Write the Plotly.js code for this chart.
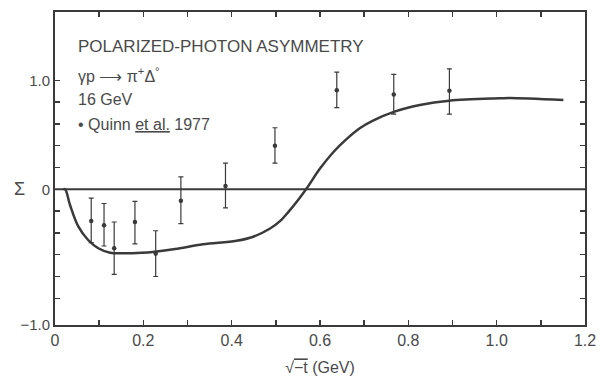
<!DOCTYPE html>
<html>
<head>
<meta charset="utf-8">
<script src="https://cdn.plot.ly/plotly-3.0.1.min.js"></script>
<style>html,body{margin:0;padding:0;background:#fff;}#chart{width:600px;height:381px;}</style>
</head>
<body>
<div id="chart"></div>
<script>
// Data: Quinn et al. 1977 points
const dataX = [0.082, 0.111, 0.134, 0.181, 0.228, 0.285, 0.386, 0.498, 0.638, 0.767, 0.893];
const dataY = [-0.29, -0.33, -0.54, -0.30, -0.59, -0.105, 0.03, 0.40, 0.91, 0.87, 0.905];
const errPlus = [0.21, 0.20, 0.24, 0.19, 0.21, 0.22, 0.21, 0.165, 0.165, 0.185, 0.20];
const errMinus = [0.20, 0.19, 0.24, 0.20, 0.21, 0.21, 0.20, 0.16, 0.16, 0.18, 0.215];

// Theory curve
const curveX = [0.019, 0.023, 0.034, 0.053, 0.075, 0.098, 0.125, 0.151, 0.196, 0.226, 0.272, 0.335, 0.411, 0.449, 0.487, 0.51, 0.53, 0.55, 0.57, 0.60, 0.63, 0.66, 0.69, 0.72, 0.767, 0.826, 0.893, 1.007, 1.030, 1.151];
const curveY = [0.0, 0.0, -0.144, -0.343, -0.465, -0.541, -0.582, -0.587, -0.582, -0.572, -0.548, -0.505, -0.472, -0.435, -0.36, -0.29, -0.20, -0.10, 0.01, 0.19, 0.34, 0.46, 0.56, 0.63, 0.71, 0.773, 0.813, 0.835, 0.838, 0.819];

// Zero reference line
const zeroX = [0, 1.2];
const zeroY = [0, 0];

// Tick labels
const xTickVals = [0, 0.2, 0.4, 0.6, 0.8, 1.0, 1.2];
const xTickText = ['0', '0.2', '0.4', '0.6', '0.8', '1.0', '1.2'];
const xMinorVals = [0.1, 0.3, 0.5, 0.7, 0.9, 1.1];
const yTickVals = [-1.245, 0, 1.0];
const yTickText = ['\u22121.0', '0', '1.0'];
const yMinorVals = [-1.0, -0.8, -0.6, -0.4, -0.2, 0.2, 0.4, 0.6, 0.8];

const ink = '#3a3a3a';
const txt = '#4a4a4a';
const font = 'Liberation Sans, Arial, sans-serif';

const traces = [
  {x: zeroX, y: zeroY, mode: 'lines', line: {color: ink, width: 2}, hoverinfo: 'skip', showlegend: false},
  {x: curveX, y: curveY, mode: 'lines', line: {color: ink, width: 2.5, shape: 'spline', smoothing: 1}, showlegend: false},
  {x: dataX, y: dataY, mode: 'markers', marker: {color: ink, size: 4.5},
   error_y: {type: 'data', symmetric: false, array: errPlus, arrayminus: errMinus, color: ink, thickness: 1.2, width: 2.5},
   showlegend: false}
];

const layout = {
  width: 600, height: 381,
  margin: {l: 55, r: 15, t: 12, b: 56},
  paper_bgcolor: '#ffffff', plot_bgcolor: '#ffffff',
  font: {family: font, color: txt, size: 14},
  showlegend: false,
  xaxis: {
    range: [0, 1.2], tickmode: 'array', tickvals: xTickVals, ticktext: xTickText,
    ticks: 'inside', ticklen: 5, tickwidth: 1.5, tickcolor: ink,
    minor: {tickmode: 'array', tickvals: xMinorVals, ticks: 'inside', ticklen: 5, tickwidth: 1.5, tickcolor: ink, showgrid: false},
    showline: true, linecolor: ink, linewidth: 2, mirror: 'ticks',
    showgrid: false, zeroline: false,
    tickfont: {size: 16, color: txt, family: font},
    title: {text: '\u221A<span style="text-decoration:overline">\u2212t</span> (GeV)', font: {size: 16, color: txt, family: font}, standoff: 14}
  },
  yaxis: {
    range: [-1.245, 1.627], tickmode: 'array', tickvals: yTickVals, ticktext: yTickText,
    ticks: 'inside', ticklen: 5, tickwidth: 1.5, tickcolor: ink,
    minor: {tickmode: 'array', tickvals: yMinorVals, ticks: 'inside', ticklen: 5, tickwidth: 1.5, tickcolor: ink, showgrid: false},
    showline: true, linecolor: ink, linewidth: 2, mirror: 'ticks',
    showgrid: false, zeroline: false,
    tickfont: {size: 15, color: txt, family: font}
  },
  annotations: [
    {xref: 'paper', yref: 'y', x: -0.067, y: 0, text: '\u03A3', showarrow: false, xanchor: 'center', yanchor: 'middle', font: {size: 18, color: txt, family: font}},
    {xref: 'x', yref: 'paper', x: 0.047, y: 0.89, text: 'POLARIZED-PHOTON ASYMMETRY', showarrow: false, xanchor: 'left', yanchor: 'middle', font: {size: 17, color: txt, family: font}},
    {xref: 'x', yref: 'paper', x: 0.047, y: 0.80, text: '\u03B3p \u27F6 \u03C0<sup>+</sup>\u0394<sup>\u00B0</sup>', showarrow: false, xanchor: 'left', yanchor: 'middle', font: {size: 16, color: txt, family: font}},
    {xref: 'x', yref: 'paper', x: 0.047, y: 0.72, text: '16 GeV', showarrow: false, xanchor: 'left', yanchor: 'middle', font: {size: 16, color: txt, family: font}},
    {xref: 'x', yref: 'paper', x: 0.047, y: 0.64, text: '\u2022 Quinn <span style="text-decoration:underline">et al.</span> 1977', showarrow: false, xanchor: 'left', yanchor: 'middle', font: {size: 16, color: txt, family: font}}
  ]
};

Plotly.newPlot('chart', traces, layout, {staticPlot: true, displayModeBar: false});
</script>
</body>
</html>
